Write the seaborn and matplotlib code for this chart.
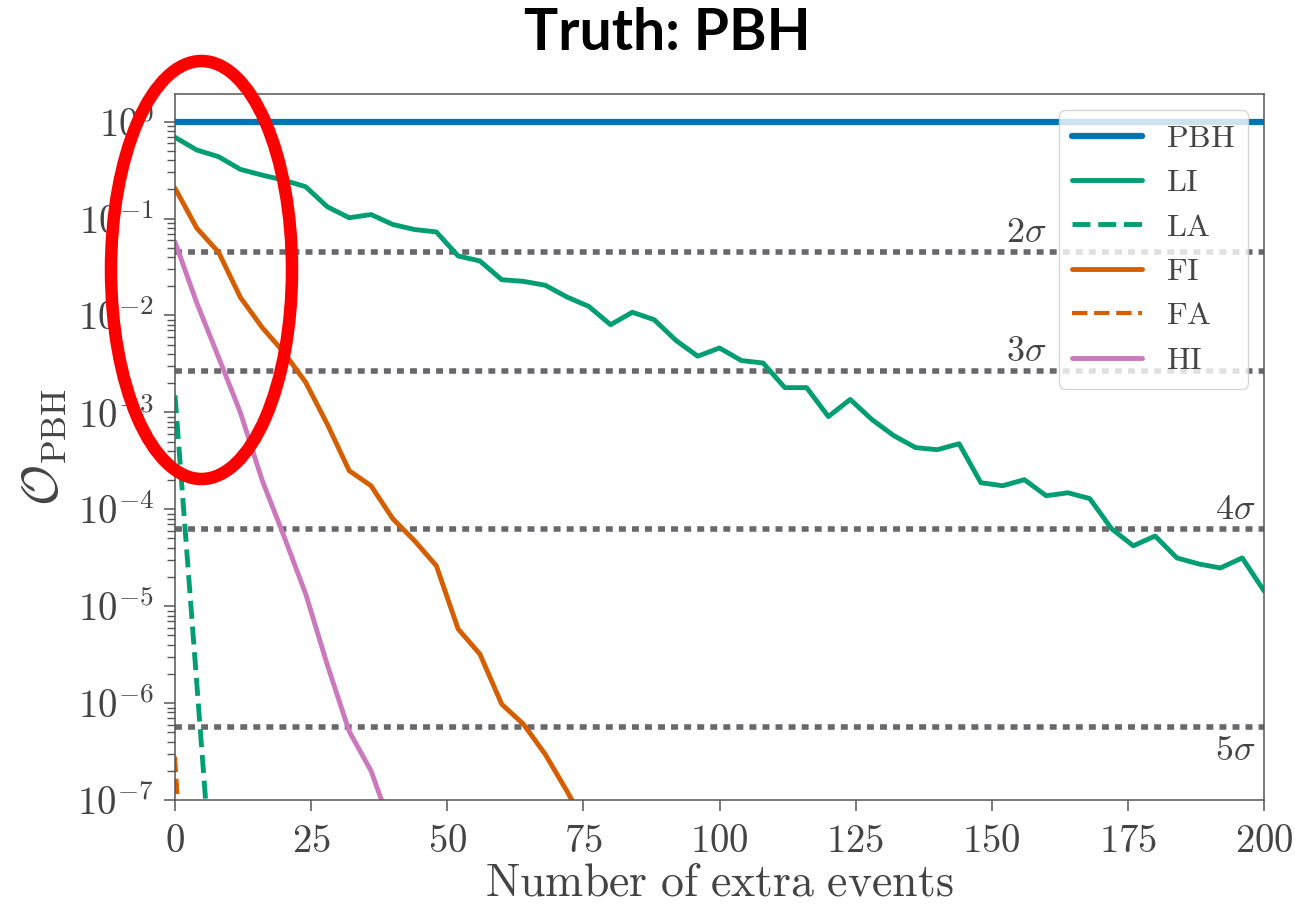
import math
import matplotlib
matplotlib.use('Agg')
from matplotlib import pyplot as plt
from matplotlib.patches import Ellipse
from matplotlib.ticker import FixedLocator, FuncFormatter, NullFormatter
import pandas as pd
import seaborn as sns


# number of extra events (grid of the curves)
events = list(range(0, 201, 4))

pbh_vals = [1.0] * len(events)

li_vals = [0.69, 0.51, 0.435, 0.322, 0.281, 0.249, 0.213, 0.132, 0.102, 0.110,
	0.0869, 0.0771, 0.0728, 0.0411, 0.0365, 0.0234, 0.0225, 0.0205, 0.0155, 0.0124,
	0.00803, 0.0108, 0.00905, 0.00553, 0.0038, 0.00462, 0.00343, 0.00323, 0.0018, 0.0018,
	0.000905, 0.00136, 0.000843, 0.000576, 0.000433, 0.000412, 0.000475, 0.000188, 0.000175, 0.000202,
	0.000138, 0.000148, 0.000129, 6.3e-5, 4.2e-5, 5.3e-5, 3.15e-5, 2.73e-5, 2.48e-5, 3.15e-5,
	1.44e-5]

la_events = [0, 4, 8]
la_vals = [1.5e-3, 1.6e-6, 1.7e-9]

fi_events = [0, 4, 8, 12, 16, 20, 24, 28, 32, 36, 40, 44, 48, 52, 56, 60, 64, 68, 72, 76]
fi_vals = [0.206, 0.0796, 0.045, 0.0154, 0.00753, 0.00416, 0.00204, 0.00075, 2.5e-4, 1.75e-4,
	7.98e-5, 4.73e-5, 2.61e-5, 5.81e-6, 3.2e-6, 9.75e-7, 6.05e-7, 2.96e-7, 1.23e-7, 4.8e-8]

fa_events = [0, 4]
fa_vals = [2.8e-7, 7e-11]

hi_events = [0, 4, 8, 12, 16, 20, 24, 28, 32, 36, 40]
hi_vals = [0.0574, 0.0135, 0.0037, 0.0010, 2.0e-4, 5.3e-5, 1.34e-5, 2.45e-6, 5.1e-7, 2.0e-7, 4.7e-8]

# two-sided significance thresholds
sigma_labels = ['2\\sigma', '3\\sigma', '4\\sigma', '5\\sigma']
sigma_vals = [4.55e-2, 2.70e-3, 6.33e-5, 5.73e-7]
sigma_text_x = [160, 160, 198.5, 198.5]

x_ticks = [0, 25, 50, 75, 100, 125, 150, 175, 200]
y_decades = [-7, -6, -5, -4, -3, -2, -1, 0]


sns.set_theme(style='ticks', rc={
	'axes.edgecolor': '#555555',
	'axes.linewidth': 1.1,
	'xtick.color': '#555555',
	'ytick.color': '#555555',
	'xtick.labelcolor': '#444444',
	'ytick.labelcolor': '#444444',
	'axes.labelcolor': '#444444',
	'text.color': '#444444',
})
plt.rcParams['mathtext.fontset'] = 'cm'

pal = sns.color_palette('colorblind')
c_blue, c_green, c_orange, c_pink = pal[0], pal[2], pal[3], pal[4]

fig = plt.figure(figsize=(12.95, 9.06), dpi=100)
ax = fig.add_axes([175 / 1295, 1 - 800 / 906, (1264 - 175) / 1295, (800 - 94) / 906])

series = [
	('PBH', events, pbh_vals, c_blue, '-', 4.5),
	('LI', events, li_vals, c_green, '-', 3.5),
	('LA', la_events, la_vals, c_green, '--', 3.5),
	('FI', fi_events, fi_vals, c_orange, '-', 3.5),
	('FA', fa_events, fa_vals, c_orange, '--', 3),
	('HI', hi_events, hi_vals, c_pink, '-', 3.5),
]

for name, xs, ys, col, ls, lw in series:
	df = pd.DataFrame({'events': xs, 'odds': ys})
	sns.lineplot(data=df, x='events', y='odds', ax=ax, color=col, linestyle=ls,
		lw=lw, label='$\\mathrm{%s}$' % name)

for lab, val, tx in zip(sigma_labels, sigma_vals, sigma_text_x):
	ax.axhline(val, color='#68686c', lw=4, linestyle=(0, (1.25, 1.1)), zorder=1)
	dy = -17 if lab.startswith('5') else 14
	ax.annotate('$%s$' % lab, xy=(tx, val), xytext=(0, dy), textcoords='offset points',
		ha='right', va='center', fontsize=26, color='#444444')

ax.set_yscale('log')
ax.set_xlim(0, 200)
ax.set_ylim(1e-7, 1.93)

ax.set_xticks(x_ticks)
ax.xaxis.set_major_formatter(FuncFormatter(lambda v, p: '$%d$' % v))
# only the decades inside the view, minor ticks 2..9 of each decade
ax.yaxis.set_major_locator(FixedLocator([10.0 ** d for d in y_decades]))
ax.yaxis.set_minor_locator(FixedLocator([m * 10.0 ** d for d in y_decades for m in range(2, 10)
	if m * 10.0 ** d < 1.93]))
ax.yaxis.set_major_formatter(FuncFormatter(lambda v, p: '$10^{%d}$' % round(math.log10(v))))
ax.yaxis.set_minor_formatter(NullFormatter())
ax.tick_params(which='major', length=8, width=1.1, labelsize=28)
ax.tick_params(axis='x', which='major', pad=8)
ax.tick_params(axis='y', which='major', pad=7)
ax.tick_params(which='minor', length=6, width=1.0)

ax.set_xlabel('$\\mathrm{Number\\ of\\ extra\\ events}$', fontsize=33, labelpad=0)
ax.set_ylabel('$\\mathcal{O}_{\\mathrm{PBH}}$', fontsize=36, labelpad=6)

ax.legend(loc='upper right', fontsize=23, handlelength=2.2, handletextpad=0.75,
	labelspacing=0.42, framealpha=0.8, edgecolor='#cccccc', fancybox=True)

fig.text(667 / 1295, 1 - 34 / 906, 'Truth: PBH', ha='center', va='center',
	fontsize=41, fontweight='bold', family='Lato', color='black')

# red highlight drawn over the low-event region
ring = Ellipse((201.5 / 1295, 1 - 270 / 906), 181 / 1295, 418 / 906,
	transform=fig.transFigure, fill=False, edgecolor='red', lw=9, zorder=10)
fig.add_artist(ring)

plt.savefig('out.png', dpi=100)
